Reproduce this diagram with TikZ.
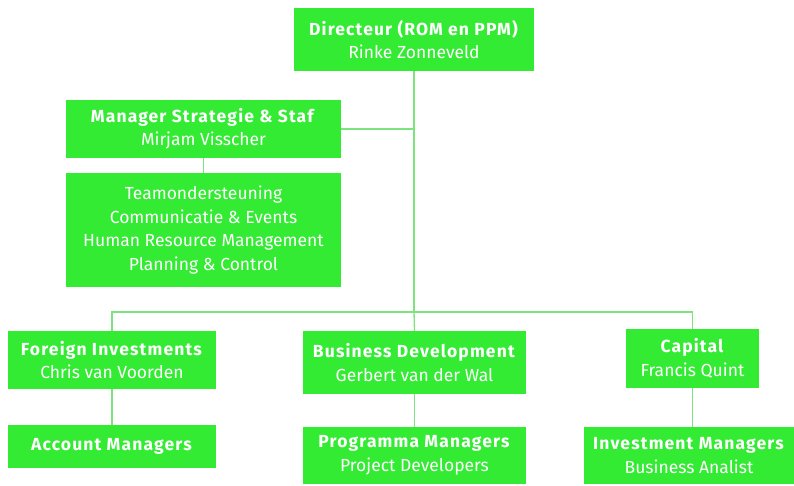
\documentclass[tikz,border=0pt]{standalone}
\usepackage{fontspec}
\setmainfont{Fira Sans}[BoldFeatures={LetterSpace=6.5}]
\definecolor{boxgreen}{RGB}{52,235,52}
\definecolor{linegreen}{RGB}{125,228,125}

\begin{document}
\begin{tikzpicture}[x=1pt, y=-1pt,
  every node/.style={font=\fontsize{17.5}{23.5}\selectfont},
  unit/.style={fill=boxgreen, text=white, inner sep=0pt, align=center, anchor=center},
  link/.style={draw=linegreen, line width=1.3pt}]

\useasboundingbox (0,0) rectangle (794,485);

% ---------- TOP ----------
\node[unit, minimum width=240pt, minimum height=63pt] (dir) at (414,39.5)
  {\textbf{Directeur (ROM en PPM)}\\Rinke Zonneveld};

% ---------- STAFF ----------
\node[unit, minimum width=275pt, minimum height=58pt] (msf) at (203.5,129)
  {\textbf{Manager Strategie \& Staf}\\Mirjam Visscher};
\node[unit, minimum width=275pt, minimum height=114pt] (staff) at (203.5,230)
  {Teamondersteuning\\Communicatie \& Events\\Human Resource Management\\Planning \& Control};

% ---------- DEPARTMENTS ----------
\node[unit, minimum width=208pt, minimum height=58pt] (fi) at (112,360)
  {\textbf{Foreign Investments}\\Chris van Voorden};
\node[unit, minimum width=223pt, minimum height=63pt] (bd) at (414.5,362.5)
  {\textbf{Business Development}\\Gerbert van der Wal};
\node[unit, minimum width=133pt, minimum height=59pt] (cap) at (692.5,358.5)
  {\textbf{Capital}\\Francis Quint};

% ---------- TEAMS ----------
\node[unit, minimum width=208pt, minimum height=43pt] (am) at (112,446.5)
  {\textbf{Account Managers}};
\node[unit, minimum width=223pt, minimum height=57pt] (pm) at (414.5,455.5)
  {\textbf{Programma Managers}\\Project Developers};
\node[unit, minimum width=210pt, minimum height=57pt] (im) at (689,455.5)
  {\textbf{Investment Managers}\\Business Analist};

% ---------- LINES ----------
\coordinate (bar) at (414,312);
\draw[link] (dir.south) -- (bar);
\draw[link] (msf.east) -- (msf.east -| dir.south);
\draw[link] (msf) -- (staff);
\draw[link] (fi.north) -- (fi.north |- bar) -| (cap.north);
\draw[link] (bar) -- (bd.north);
\draw[link] (fi) -- (am);
\draw[link] (bd) -- (pm);
\draw[link] (cap.south) -- (cap.south |- im.north);

\end{tikzpicture}
\end{document}
